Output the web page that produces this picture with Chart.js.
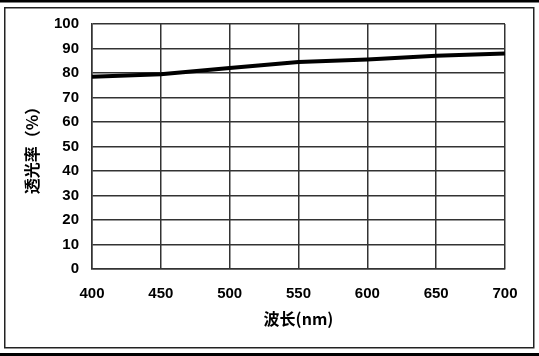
<!DOCTYPE html>
<html>
<head>
<meta charset="utf-8">
<script src="https://cdn.jsdelivr.net/npm/chart.js@4.4.0/dist/chart.umd.min.js"></script>
<style>
html,body{margin:0;padding:0;background:#fff;}
#wrap{width:539px;height:356px;position:relative;}
</style>
</head>
<body>
<div id="wrap"><canvas id="c" width="539" height="356"></canvas></div>
<script>
const wavelengths = ['400','450','500','550','600','650','700'];
const transmittance = [78.5, 79.5, 82, 84.5, 85.5, 87, 88];
const yTicks = [0,10,20,30,40,50,60,70,80,90,100];
const xTitle = '波长(nm)';
const yTitle = '透光率（%）';

const framePlugin = {
  id: 'frame',
  beforeDraw(chart) {
    const ctx = chart.ctx;
    ctx.save();
    ctx.fillStyle = '#fff';
    ctx.fillRect(0,0,chart.width,chart.height);
    ctx.fillStyle = '#000';
    ctx.fillRect(0,0,chart.width,2.5);
    ctx.fillRect(0,353,chart.width,3);
    ctx.strokeStyle = '#222';
    ctx.lineWidth = 1.5;
    ctx.strokeRect(4.75,7.75,529,340);
    ctx.restore();
  }
};

const font = {family: '"Liberation Sans", "Noto Sans CJK SC", sans-serif', size: 15, weight: 'bold'};

new Chart(document.getElementById('c'), {
  type: 'line',
  data: {
    labels: wavelengths,
    datasets: [{
      data: transmittance,
      borderColor: '#000',
      borderWidth: 4,
      pointRadius: 0,
      tension: 0,
      fill: false
    }]
  },
  plugins: [framePlugin],
  options: {
    responsive: false,
    animation: false,
    devicePixelRatio: 1,
    layout: {padding: {left: 18, top: 24, right: 34, bottom: 24}},
    plugins: {legend: {display: false}, tooltip: {enabled: false}},
    scales: {
      x: {
        type: 'category',
        offset: false,
        grid: {color: '#333', lineWidth: 1.5, drawTicks: false},
        border: {color: '#333', width: 1.5},
        ticks: {color: '#000', font: font, padding: 16, maxRotation: 0, autoSkip: false},
        title: {display: true, text: xTitle, color: '#000',
          font: {family: '"Noto Sans CJK SC", sans-serif', size: 16, weight: 'bold'}, padding: {top: 4, bottom: 3}},
        afterFit(s) { s.height = 356 - 269 - 24; }
      },
      y: {
        min: 0, max: 100,
        afterBuildTicks(s) { s.ticks = yTicks.map(v => ({value: v})); },
        grid: {color: '#333', lineWidth: 1.5, drawTicks: false},
        border: {color: '#333', width: 1.5},
        ticks: {color: '#000', font: font, padding: 13},
        title: {display: true, text: yTitle, color: '#000',
          font: {family: '"Noto Sans CJK SC", sans-serif', size: 16, weight: 'bold'}, padding: {top: 4, bottom: 4}},
        afterFit(s) { s.width = 92 - 18; }
      }
    }
  }
});
</script>
</body>
</html>
